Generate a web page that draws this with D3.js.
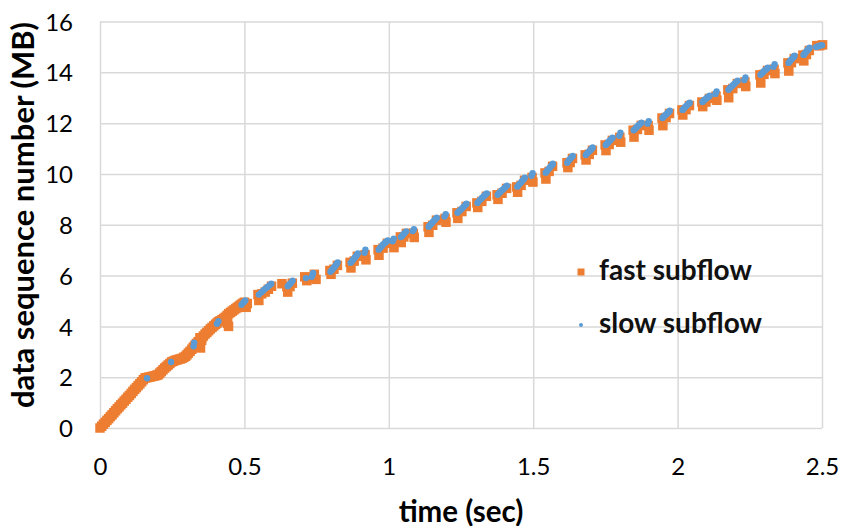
<!DOCTYPE html>
<html>
<head>
<meta charset="utf-8">
<script src="https://cdn.jsdelivr.net/npm/d3@7"></script>
<style>
  body { margin: 0; background: #fff; }
  svg { display: block; }
  .tick text { font-family: Lato, "Open Sans", sans-serif; fill: #000; }
</style>
</head>
<body>
<svg id="chart" width="843" height="526"></svg>
<script>
// Data: [time (sec), data sequence number (MB)]
const xTicks = [0, 0.5, 1, 1.5, 2, 2.5]
const yTicks = [0, 2, 4, 6, 8, 10, 12, 14, 16]
const seriesNames = ["fast subflow", "slow subflow"]

// fast subflow: dense run at the start, then bursts
const fastSubflow = [
    [0, 0], [0.006, 0.07], [0.012, 0.15], [0.018, 0.22], [0.024, 0.3], [0.03, 0.37], [0.036, 0.45],
    [0.042, 0.52], [0.048, 0.6], [0.054, 0.68], [0.06, 0.76], [0.066, 0.83], [0.072, 0.91],
    [0.078, 0.98], [0.084, 1.06], [0.09, 1.13], [0.096, 1.21], [0.102, 1.28], [0.108, 1.36],
    [0.114, 1.44], [0.12, 1.52], [0.126, 1.59], [0.132, 1.67], [0.138, 1.74], [0.144, 1.82],
    [0.15, 1.9], [0.156, 1.97], [0.162, 1.98], [0.168, 2.0], [0.174, 2.01], [0.18, 2.03],
    [0.186, 2.04], [0.192, 2.06], [0.197, 2.08], [0.202, 2.1], [0.207, 2.16], [0.212, 2.22],
    [0.218, 2.29], [0.224, 2.36], [0.23, 2.42], [0.236, 2.48], [0.242, 2.54], [0.248, 2.6],
    [0.254, 2.63], [0.26, 2.66], [0.266, 2.68], [0.272, 2.7], [0.278, 2.72], [0.284, 2.74],
    [0.29, 2.78], [0.296, 2.82], [0.301, 2.88], [0.306, 2.95], [0.312, 3.02], [0.318, 3.1],
    [0.323, 3.18], [0.329, 3.26], [0.334, 3.33], [0.34, 3.4],
    [0.348, 3.15], [0.352, 3.45], [0.346, 3.3], [0.346, 3.55], [0.352, 3.55], [0.358, 3.62],
    [0.364, 3.7], [0.37, 3.76], [0.376, 3.83], [0.382, 3.9], [0.388, 3.96], [0.394, 4.02],
    [0.4, 4.08], [0.405, 4.13], [0.41, 4.18], [0.416, 4.22], [0.422, 4.26], [0.428, 4.31],
    [0.434, 4.36], [0.442, 4.12], [0.445, 4.0], [0.44, 4.43], [0.446, 4.5], [0.452, 4.55],
    [0.458, 4.6], [0.464, 4.65], [0.47, 4.7], [0.475, 4.74], [0.48, 4.78], [0.485, 4.83],
    [0.49, 4.87], [0.495, 4.91], [0.5, 4.95], [0.506, 4.75], [0.51, 4.9],
    [0.547, 5.25], [0.55, 5.02], [0.56, 5.28], [0.572, 5.35], [0.583, 5.46], [0.594, 5.58],
    [0.63, 5.68], [0.647, 5.57], [0.65, 5.35], [0.658, 5.57], [0.666, 5.7],
    [0.709, 5.95], [0.716, 5.8],
    [0.735, 5.92], [0.748, 5.85], [0.742, 6.05],
    [0.796, 6.2], [0.8, 6.05], [0.81, 6.25], [0.822, 6.4],
    [0.866, 6.52], [0.869, 6.3], [0.88, 6.57], [0.891, 6.76],
    [0.918, 6.82], [0.921, 6.62],
    [0.963, 7.02], [0.966, 6.8], [0.98, 7.08], [0.995, 7.27],
    [1.015, 7.28], [1.018, 7.1],
    [1.04, 7.52], [1.043, 7.3], [1.052, 7.52], [1.061, 7.66],
    [1.085, 7.66], [1.088, 7.5],
    [1.136, 7.92], [1.139, 7.7], [1.152, 7.98], [1.165, 8.18],
    [1.195, 8.25], [1.198, 8.1],
    [1.236, 8.47], [1.239, 8.25], [1.253, 8.52], [1.268, 8.72],
    [1.305, 8.86], [1.308, 8.68], [1.322, 8.92], [1.338, 9.12],
    [1.375, 9.18], [1.378, 9.0], [1.392, 9.24], [1.408, 9.43],
    [1.443, 9.49], [1.446, 9.28], [1.458, 9.55], [1.47, 9.75],
    [1.496, 9.86], [1.499, 9.68],
    [1.541, 10.04], [1.544, 9.8], [1.555, 10.1], [1.567, 10.3],
    [1.617, 10.44], [1.62, 10.25], [1.628, 10.45], [1.636, 10.61],
    [1.68, 10.75], [1.683, 10.55], [1.694, 10.77], [1.705, 10.93],
    [1.749, 11.14], [1.752, 10.92], [1.763, 11.16], [1.774, 11.32],
    [1.8, 11.44], [1.803, 11.25],
    [1.846, 11.72], [1.849, 11.45], [1.861, 11.75], [1.874, 11.91],
    [1.898, 11.9], [1.901, 11.72],
    [1.946, 12.2], [1.949, 11.9], [1.96, 12.22], [1.972, 12.38],
    [2.015, 12.52], [2.018, 12.32], [2.029, 12.53], [2.041, 12.69],
    [2.084, 12.83], [2.087, 12.65], [2.098, 12.83], [2.11, 12.97],
    [2.133, 13.06], [2.136, 12.9],
    [2.174, 13.31], [2.177, 13.0], [2.191, 13.36], [2.207, 13.56],
    [2.233, 13.62], [2.236, 13.44],
    [2.285, 13.9], [2.288, 13.58], [2.299, 13.92], [2.311, 14.07],
    [2.334, 14.12], [2.337, 13.95],
    [2.382, 14.37], [2.385, 14.05], [2.394, 14.38], [2.404, 14.54],
    [2.434, 14.68], [2.437, 14.45], [2.446, 14.7], [2.456, 14.86],
    [2.482, 15.05], [2.492, 15.05], [2.502, 15.08]
]

// slow subflow
const slowSubflow = [
    [0.163, 1.96], [0.246, 2.6], [0.324, 3.22], [0.326, 3.36], [0.405, 4.1], [0.41, 4.2],
    [0.49, 4.85], [0.497, 4.95], [0.503, 5.02],
    [0.55, 5.25], [0.558, 5.33], [0.565, 5.4], [0.572, 5.48], [0.58, 5.55], [0.587, 5.62], [0.593, 5.68],
    [0.65, 5.58], [0.655, 5.64], [0.66, 5.7], [0.667, 5.8],
    [0.713, 5.9], [0.733, 5.95], [0.736, 6.03], [0.738, 6.1],
    [0.798, 6.15], [0.803, 6.22], [0.807, 6.28], [0.812, 6.34], [0.816, 6.4], [0.82, 6.46], [0.823, 6.52],
    [0.868, 6.5], [0.873, 6.57], [0.877, 6.63], [0.882, 6.7], [0.886, 6.76], [0.89, 6.82], [0.893, 6.87],
    [0.916, 6.9], [0.919, 7.02],
    [0.965, 7.02], [0.97, 7.09], [0.975, 7.15], [0.98, 7.22], [0.986, 7.28], [0.991, 7.33], [0.996, 7.38],
    [1.013, 7.35], [1.017, 7.45],
    [1.042, 7.52], [1.046, 7.57], [1.05, 7.62], [1.055, 7.68], [1.06, 7.74],
    [1.083, 7.75], [1.087, 7.82],
    [1.138, 7.92], [1.143, 7.99], [1.148, 8.05], [1.153, 8.12], [1.158, 8.18], [1.162, 8.23], [1.166, 8.28],
    [1.193, 8.32], [1.197, 8.42],
    [1.238, 8.47], [1.244, 8.54], [1.25, 8.6], [1.255, 8.66], [1.26, 8.72], [1.265, 8.78], [1.269, 8.83],
    [1.307, 8.86], [1.312, 8.93], [1.318, 9.0], [1.323, 9.06], [1.329, 9.12], [1.334, 9.18], [1.339, 9.23],
    [1.377, 9.18], [1.382, 9.25], [1.388, 9.31], [1.393, 9.37], [1.399, 9.43], [1.404, 9.49], [1.409, 9.54],
    [1.445, 9.5], [1.45, 9.57], [1.455, 9.63], [1.46, 9.69], [1.464, 9.75], [1.468, 9.8], [1.471, 9.85],
    [1.494, 9.93], [1.498, 10.03],
    [1.543, 10.05], [1.548, 10.12], [1.552, 10.18], [1.557, 10.24], [1.561, 10.3], [1.565, 10.35], [1.568, 10.4],
    [1.618, 10.44], [1.622, 10.51], [1.627, 10.58], [1.632, 10.65], [1.637, 10.71],
    [1.682, 10.75], [1.687, 10.81], [1.691, 10.86], [1.696, 10.91], [1.7, 10.96], [1.703, 11.0], [1.706, 11.04],
    [1.751, 11.14], [1.756, 11.2], [1.76, 11.25], [1.764, 11.3], [1.768, 11.35], [1.772, 11.39], [1.775, 11.43],
    [1.798, 11.5], [1.802, 11.62],
    [1.848, 11.72], [1.853, 11.78], [1.858, 11.84], [1.862, 11.89], [1.867, 11.94], [1.871, 11.98], [1.875, 12.02],
    [1.896, 11.98], [1.9, 12.08],
    [1.948, 12.2], [1.952, 12.26], [1.957, 12.31], [1.962, 12.36], [1.966, 12.41], [1.97, 12.45], [1.973, 12.49],
    [2.017, 12.52], [2.022, 12.58], [2.026, 12.63], [2.03, 12.68], [2.035, 12.73], [2.039, 12.77], [2.042, 12.8],
    [2.086, 12.83], [2.09, 12.88], [2.095, 12.93], [2.1, 12.98], [2.104, 13.02], [2.108, 13.05], [2.111, 13.08],
    [2.131, 13.15], [2.135, 13.25],
    [2.176, 13.31], [2.181, 13.38], [2.187, 13.44], [2.192, 13.5], [2.198, 13.56], [2.203, 13.62], [2.208, 13.67],
    [2.231, 13.7], [2.235, 13.8],
    [2.287, 13.9], [2.291, 13.95], [2.296, 14.0], [2.3, 14.05], [2.305, 14.1], [2.309, 14.14], [2.312, 14.18],
    [2.332, 14.22], [2.336, 14.32],
    [2.384, 14.37], [2.388, 14.43], [2.392, 14.48], [2.396, 14.53], [2.4, 14.58], [2.403, 14.62], [2.405, 14.65],
    [2.436, 14.68], [2.44, 14.74], [2.444, 14.8], [2.448, 14.85], [2.452, 14.9], [2.455, 14.94], [2.457, 14.97],
    [2.48, 15.0], [2.485, 15.02], [2.49, 15.04], [2.495, 15.06], [2.5, 15.07]
]

const orange = "#ED7D31"
const blue = "#5B9BD5"
const gridColor = "#d9d9d9"

const margin = {top: 21.5, right: 21, bottom: 98, left: 100}
const width = 843 - margin.left - margin.right
const height = 526 - margin.top - margin.bottom

const svg = d3.select("#chart")
const g = svg.append("g").attr("transform", `translate(${margin.left},${margin.top})`)

const x = d3.scaleLinear().domain([0, 2.5]).range([0, width])
const y = d3.scaleLinear().domain([0, 16]).range([height, 0])

// gridlines + tick labels
const xAxis = g.append("g")
    .attr("transform", `translate(0,${height})`)
    .call(d3.axisBottom(x).tickValues(xTicks).tickSize(-height).tickPadding(35)
        .tickFormat(d3.format("")))
const yAxis = g.append("g")
    .call(d3.axisLeft(y).tickValues(yTicks).tickSize(-width).tickPadding(27))

for (const ax of [xAxis, yAxis]) {
    ax.select(".domain").remove()
    ax.selectAll(".tick line").attr("stroke", gridColor).attr("stroke-width", 1.5)
    ax.selectAll(".tick text").attr("font-size", 24)
}
xAxis.selectAll(".tick text").attr("dy", "0.5em")
yAxis.selectAll(".tick text").attr("dy", "0.36em")

// fast subflow: squares
g.append("g")
    .selectAll("rect")
    .data(fastSubflow)
    .enter()
    .append("rect")
        .attr("x", d => x(d[0]) - 4.75)
        .attr("y", d => y(d[1]) - 4.75)
        .attr("width", 9.5)
        .attr("height", 9.5)
        .attr("fill", orange)

// slow subflow: dots
g.append("g")
    .selectAll("circle")
    .data(slowSubflow)
    .enter()
    .append("circle")
        .attr("cx", d => x(d[0]))
        .attr("cy", d => y(d[1]))
        .attr("r", 3.2)
        .attr("fill", blue)

// axis titles
svg.append("text")
    .attr("x", margin.left + width / 2)
    .attr("y", 510)
    .attr("text-anchor", "middle")
    .attr("dominant-baseline", "central")
    .attr("font-family", "Lato, sans-serif")
    .attr("font-weight", "bold")
    .attr("font-size", 29.5)
    .text("time (sec)")

svg.append("text")
    .attr("transform", "translate(22,215) rotate(-90)")
    .attr("text-anchor", "middle")
    .attr("dominant-baseline", "central")
    .attr("font-family", "Lato, sans-serif")
    .attr("font-weight", "bold")
    .attr("font-size", 31)
    .text("data sequence number (MB)")

// legend
const legend = svg.append("g").attr("transform", "translate(581,272)")
legend.append("rect").attr("x", -3.5).attr("y", -3.5).attr("width", 7).attr("height", 7).attr("fill", orange)
legend.append("circle").attr("cx", 0).attr("cy", 53).attr("r", 2).attr("fill", blue)
legend.selectAll("text")
    .data(seriesNames)
    .enter()
    .append("text")
        .attr("x", 18)
        .attr("y", (d, i) => 8 + i * 53)
        .attr("font-family", "Lato, sans-serif")
        .attr("font-weight", "bold")
        .attr("font-size", 28)
        .attr("fill", "#111")
        .text(d => d)
</script>
</body>
</html>
